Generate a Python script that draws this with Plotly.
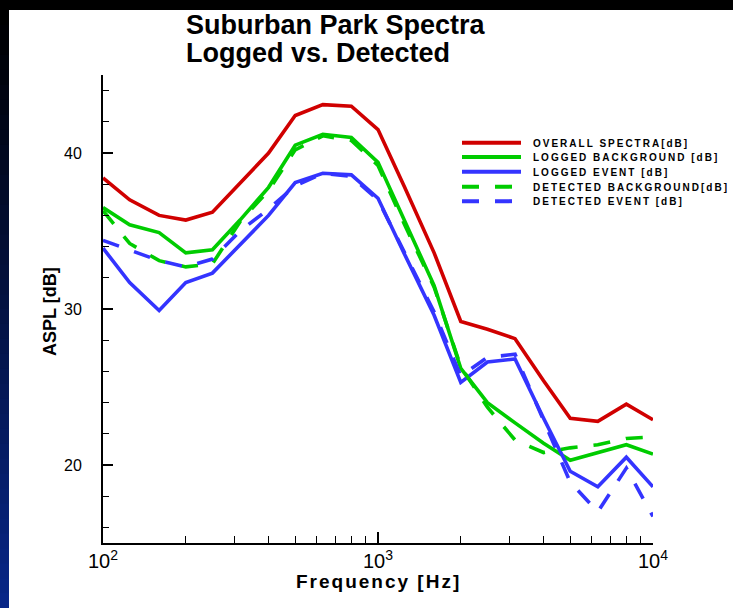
import plotly.graph_objects as go

# ---- data ----
freq = [100, 125, 160, 200, 250, 315, 400, 500, 630, 800, 1000,
        1250, 1600, 2000, 2500, 3150, 4000, 5000, 6300, 8000, 10000]
overall = [38.4, 37.0, 36.0, 35.7, 36.2, 38.1, 40.0, 42.4, 43.1, 43.0, 41.5,
           37.8, 33.6, 29.2, 28.7, 28.1, 25.4, 23.0, 22.8, 23.9, 22.9]
logged_bg = [36.5, 35.4, 34.9, 33.6, 33.8, 35.7, 37.8, 40.5, 41.2, 41.0, 39.4,
             35.6, 31.5, 26.2, 24.0, 22.7, 21.4, 20.3, 20.8, 21.3, 20.7]
logged_event = [33.9, 31.7, 29.9, 31.7, 32.3, 34.1, 36.0, 38.1, 38.7, 38.6, 37.1,
                33.5, 29.6, 25.3, 26.6, 26.8, 23.0, 19.6, 18.6, 20.5, 18.6]
detected_bg = [36.3, 34.2, 33.1, 32.7, 32.9, 35.6, 37.6, 40.2, 41.1, 40.8, 39.2,
               35.4, 31.4, 26.3, 23.7, 21.6, 20.8, 21.1, 21.3, 21.7, 21.8]
detected_event = [34.4, 33.8, 33.1, 32.7, 33.2, 35.0, 36.4, 37.9, 38.7, 38.5, 37.0,
                  33.6, 29.8, 25.7, 26.9, 27.1, 22.9, 18.9, 17.0, 19.8, 16.7]

names = ["OVERALL SPECTRA[dB]", "LOGGED BACKGROUND [dB]", "LOGGED EVENT [dB]",
         "DETECTED BACKGROUND[dB]", "DETECTED EVENT [dB]"]
series = [overall, logged_bg, logged_event, detected_bg, detected_event]
colors = ["#d00000", "#00cc00", "#3434ff", "#00cc00", "#3434ff"]
dashes = ["solid", "solid", "solid", "17px,16px", "17px,16px"]

W, H = 733, 608
L, R, T, B = 103, 80, 75, 65
PW, PH = W - L - R, H - T - B


def px2x(px):
    return (px - L) / PW


def py2y(py):
    return (H - B - py) / PH


FONT = "Liberation Sans, Arial, Helvetica, sans-serif"

fig = go.Figure()
for nm, s, c, d in zip(names, series, colors, dashes):
    fig.add_trace(go.Scatter(x=freq, y=s, mode="lines", name=nm, showlegend=False,
                             line=dict(color=c, width=3.6, dash=d)))

shapes = []
# top black band
shapes.append(dict(type="rect", xref="paper", yref="paper", x0=px2x(-2), x1=px2x(W + 2),
                   y0=py2y(10), y1=py2y(-2), fillcolor="black", line=dict(width=0), layer="below"))
# left gradient strip
n = 40
top, bot = 10, H
for i in range(n):
    y0 = top + (bot - top) * i / n
    y1 = top + (bot - top) * (i + 1) / n + 1
    t = i / (n - 1)
    r = int(0 + 8 * t)
    g = int(0 + 38 * t)
    b = int(0 + 135 * t)
    shapes.append(dict(type="rect", xref="paper", yref="paper", x0=px2x(-2), x1=px2x(9),
                       y0=py2y(min(y1, H + 2)), y1=py2y(y0),
                       fillcolor=f"rgb({r},{g},{b})", line=dict(width=0), layer="below"))

# legend lines
leg_y = [142.7, 156.9, 171.8, 186.7, 201.2]
for yy, c, d in zip(leg_y, colors, dashes):
    shapes.append(dict(type="line", xref="paper", yref="paper", x0=px2x(462), x1=px2x(521),
                       y0=py2y(yy), y1=py2y(yy), line=dict(color=c, width=4, dash=d)))

annotations = []
for yy, nm in zip(leg_y, names):
    annotations.append(dict(xref="paper", yref="paper", x=px2x(531), y=py2y(yy + 0.5),
                            xanchor="left", yanchor="middle", showarrow=False,
                            text=f'<span style="letter-spacing:2px">{nm}</span>',
                            font=dict(family=FONT, size=10, color="black", weight="bold")))

# title lines
annotations.append(dict(xref="paper", yref="paper", x=px2x(184), y=py2y(25),
                        xanchor="left", yanchor="middle", showarrow=False,
                        text="<b>Suburban Park Spectra</b>",
                        font=dict(family=FONT, size=27, color="black")))
annotations.append(dict(xref="paper", yref="paper", x=px2x(184), y=py2y(53),
                        xanchor="left", yanchor="middle", showarrow=False,
                        text="<b>Logged vs. Detected</b>",
                        font=dict(family=FONT, size=27, color="black")))
# axis titles
annotations.append(dict(xref="paper", yref="paper", x=px2x(378), y=py2y(581),
                        xanchor="center", yanchor="middle", showarrow=False,
                        text='<b><span style="letter-spacing:2px">Frequency [Hz]</span></b>',
                        font=dict(family=FONT, size=19, color="black")))
annotations.append(dict(xref="paper", yref="paper", x=px2x(50), y=py2y(312),
                        xanchor="center", yanchor="middle", showarrow=False, textangle=-90,
                        text="<b>ASPL [dB]</b>",
                        font=dict(family=FONT, size=18, color="black")))

fig.update_layout(
    width=W, height=H,
    margin=dict(l=L, r=R, t=T, b=B, pad=0),
    paper_bgcolor="white", plot_bgcolor="white",
    showlegend=False,
    shapes=shapes, annotations=annotations,
    font=dict(family=FONT, color="black"),
)
fig.update_xaxes(type="log", range=[2, 4], dtick=1, exponentformat="power",
                 showgrid=False, zeroline=False, showline=True, linecolor="black", linewidth=2,
                 ticks="inside", ticklen=11, tickwidth=1.5, tickcolor="black",
                 tickfont=dict(size=16, family=FONT),
                 minor=dict(ticks="inside", ticklen=7, tickwidth=1.2, tickcolor="black",
                            showgrid=False))
fig.update_yaxes(range=[15, 45], tick0=0, dtick=10,
                 showgrid=False, zeroline=False, showline=True, linecolor="black", linewidth=2,
                 ticks="inside", ticklen=10, tickwidth=1.5, tickcolor="black",
                 ticklabelstandoff=16,
                 tickfont=dict(size=16, family=FONT),
                 minor=dict(dtick=2, ticks="inside", ticklen=6, tickwidth=1.2, tickcolor="black",
                            showgrid=False))

fig.write_html("out.html")
